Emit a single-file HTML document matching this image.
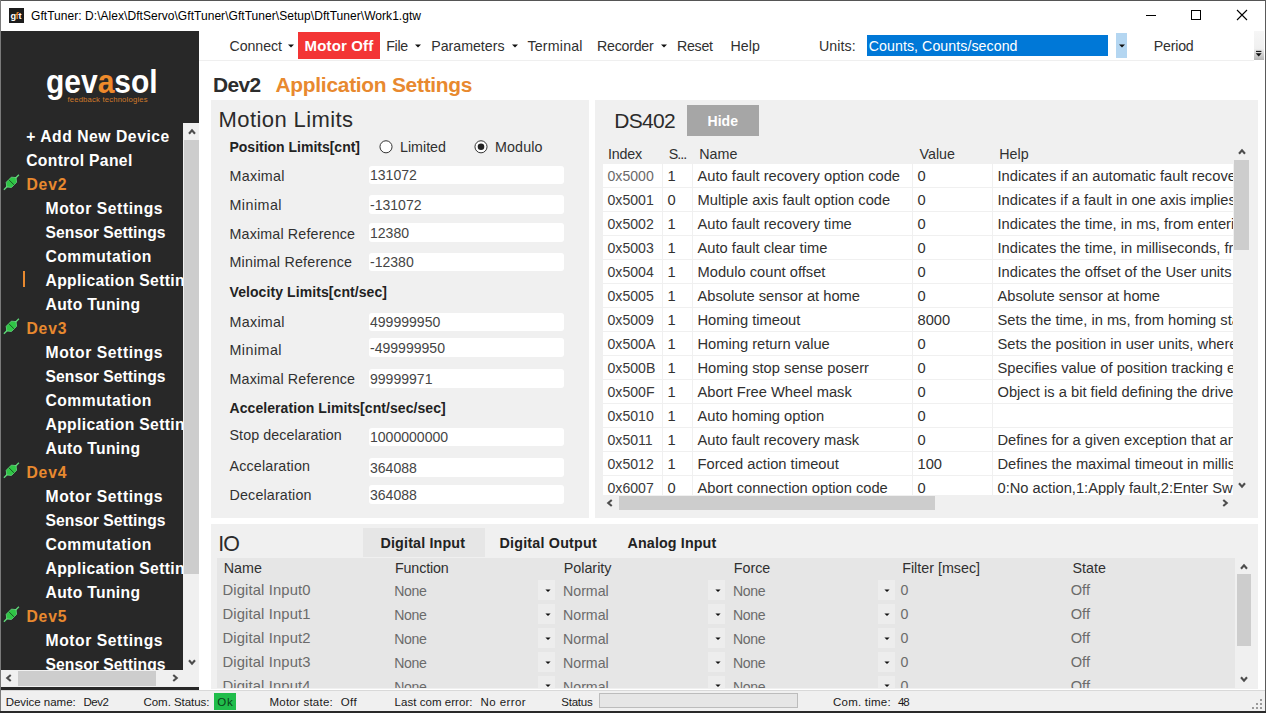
<!DOCTYPE html>
<html><head><meta charset="utf-8"><title>GftTuner</title>
<style>
html,body{margin:0;padding:0}
body{width:1266px;height:713px;overflow:hidden;position:relative;background:#fff;font-family:"Liberation Sans", sans-serif;}
#w{position:absolute;left:0;top:0;width:1266px;height:713px;overflow:hidden}
#w div,#w span,#w svg{position:absolute;white-space:pre}
#w svg{overflow:visible}
</style></head>
<body><div id="w">
<div style="left:0px;top:0px;width:1266px;height:713px;background:#fff;"></div>
<div style="left:9px;top:8px;width:15px;height:15px;background:#1c1c1c;"></div>
<svg style="left:1140px;top:5px" width="115" height="22" viewBox="0 0 115 22"><path d="M6 10.5h10" stroke="#000" stroke-width="1" fill="none"/><rect x="51.5" y="5.5" width="9" height="9" stroke="#000" fill="none"/><path d="M97 5l10 10M107 5l-10 10" stroke="#000" stroke-width="1.1" fill="none"/></svg>
<div style="left:1px;top:31px;width:198px;height:659px;background:#282828;"></div>
<div style="left:183px;top:123px;width:16px;height:547px;background:#f0f0f0;"></div>
<div style="left:184px;top:140.2px;width:15px;height:433.5px;background:#cdcdcd;"></div>
<svg style="left:183.5px;top:124.4px" width="16" height="16" viewBox="0 0 16 16"><polyline points="5.00,9.75 8.00,6.25 11.00,9.75" stroke="#4d4d4d" stroke-width="2.1" fill="none"/></svg>
<svg style="left:183.5px;top:653.6px" width="16" height="16" viewBox="0 0 16 16"><polyline points="5.00,6.25 8.00,9.75 11.00,6.25" stroke="#4d4d4d" stroke-width="2.1" fill="none"/></svg>
<div style="left:1px;top:670px;width:198px;height:16.6px;background:#f0f0f0;"></div>
<div style="left:18px;top:671px;width:138px;height:14.6px;background:#cdcdcd;"></div>
<svg style="left:1px;top:669.9px" width="16" height="16" viewBox="0 0 16 16"><polyline points="9.75,5.00 6.25,8.00 9.75,11.00" stroke="#4d4d4d" stroke-width="2.1" fill="none"/></svg>
<svg style="left:166.8px;top:669.9px" width="16" height="16" viewBox="0 0 16 16"><polyline points="6.25,5.00 9.75,8.00 6.25,11.00" stroke="#4d4d4d" stroke-width="2.1" fill="none"/></svg>
<svg style="left:3px;top:174.4px" width="17" height="17" viewBox="0 0 17 17"><g transform="translate(8.4 8.3) rotate(-45)"><path d="M-10.6 0h21.2" stroke="#5fd878" stroke-width="1.3"/><path d="M-6.6 0l3-3.7h7.2l3 3.7-3 3.7h-7.2z" fill="#2fc645" stroke="#6fe08a" stroke-width="0.7"/><path d="M0 -3.7v7.4" stroke="#17521f" stroke-width="0.9"/></g></svg>
<svg style="left:3px;top:318.4px" width="17" height="17" viewBox="0 0 17 17"><g transform="translate(8.4 8.3) rotate(-45)"><path d="M-10.6 0h21.2" stroke="#5fd878" stroke-width="1.3"/><path d="M-6.6 0l3-3.7h7.2l3 3.7-3 3.7h-7.2z" fill="#2fc645" stroke="#6fe08a" stroke-width="0.7"/><path d="M0 -3.7v7.4" stroke="#17521f" stroke-width="0.9"/></g></svg>
<svg style="left:3px;top:462.4px" width="17" height="17" viewBox="0 0 17 17"><g transform="translate(8.4 8.3) rotate(-45)"><path d="M-10.6 0h21.2" stroke="#5fd878" stroke-width="1.3"/><path d="M-6.6 0l3-3.7h7.2l3 3.7-3 3.7h-7.2z" fill="#2fc645" stroke="#6fe08a" stroke-width="0.7"/><path d="M0 -3.7v7.4" stroke="#17521f" stroke-width="0.9"/></g></svg>
<svg style="left:3px;top:606.4px" width="17" height="17" viewBox="0 0 17 17"><g transform="translate(8.4 8.3) rotate(-45)"><path d="M-10.6 0h21.2" stroke="#5fd878" stroke-width="1.3"/><path d="M-6.6 0l3-3.7h7.2l3 3.7-3 3.7h-7.2z" fill="#2fc645" stroke="#6fe08a" stroke-width="0.7"/><path d="M0 -3.7v7.4" stroke="#17521f" stroke-width="0.9"/></g></svg>
<div style="left:23px;top:271px;width:2px;height:16px;background:#e8892f;"></div>
<div style="left:199px;top:60px;width:1055px;height:1px;background:#efefef;"></div>
<div style="left:298px;top:32px;width:82px;height:27px;background:#f33535;"></div>
<div style="left:867px;top:35px;width:241px;height:21px;background:#0078d7;"></div>
<div style="left:1116px;top:33px;width:11px;height:25px;background:#b4d6f1;"></div>
<svg style="left:287.25px;top:42.5px" width="8" height="6" viewBox="0 0 8 6"><path d="M1 1.5h6l-3 3z" fill="#111"/></svg>
<svg style="left:414px;top:42.5px" width="8" height="6" viewBox="0 0 8 6"><path d="M1 1.5h6l-3 3z" fill="#111"/></svg>
<svg style="left:510.5px;top:42.5px" width="8" height="6" viewBox="0 0 8 6"><path d="M1 1.5h6l-3 3z" fill="#111"/></svg>
<svg style="left:659.75px;top:42.5px" width="8" height="6" viewBox="0 0 8 6"><path d="M1 1.5h6l-3 3z" fill="#111"/></svg>
<svg style="left:1117.5px;top:42.5px" width="8" height="6" viewBox="0 0 8 6"><path d="M1 1.5h6l-3 3z" fill="#111"/></svg>
<div style="left:1254px;top:31px;width:10px;height:29px;background:linear-gradient(#f6f6f6 0%,#f0f0f0 60%,#b4b4b4 100%);"></div>
<svg style="left:1254px;top:48px" width="10" height="10" viewBox="0 0 10 10"><path d="M2 3.4h5.4" stroke="#111" stroke-width="1.1"/><path d="M1.7 5.2h6l-3 3.4z" fill="#111"/></svg>
<div style="left:211px;top:100px;width:378px;height:418px;background:#f0f0f0;"></div>
<svg style="left:377.75px;top:139px" width="16" height="16" viewBox="0 0 16 16"><circle cx="8" cy="7.8" r="6.05" fill="#fff" stroke="#333" stroke-width="1"/></svg>
<svg style="left:472.75px;top:139px" width="16" height="16" viewBox="0 0 16 16"><circle cx="8" cy="7.8" r="6.05" fill="#fff" stroke="#333" stroke-width="1"/><circle cx="8" cy="7.8" r="3.3" fill="#222"/></svg>
<div style="left:369.25px;top:165.5px;width:195px;height:18.75px;background:#fff;border-radius:3px;"></div>
<div style="left:369.25px;top:195px;width:195px;height:18.75px;background:#fff;border-radius:3px;"></div>
<div style="left:369.25px;top:223.25px;width:195px;height:18.75px;background:#fff;border-radius:3px;"></div>
<div style="left:369.25px;top:252.5px;width:195px;height:18.75px;background:#fff;border-radius:3px;"></div>
<div style="left:369.25px;top:312.5px;width:195px;height:18.75px;background:#fff;border-radius:3px;"></div>
<div style="left:369.25px;top:338.25px;width:195px;height:18.75px;background:#fff;border-radius:3px;"></div>
<div style="left:369.25px;top:369.25px;width:195px;height:18.75px;background:#fff;border-radius:3px;"></div>
<div style="left:369.25px;top:427.5px;width:195px;height:18.75px;background:#fff;border-radius:3px;"></div>
<div style="left:369.25px;top:458.25px;width:195px;height:18.75px;background:#fff;border-radius:3px;"></div>
<div style="left:369.25px;top:485px;width:195px;height:18.75px;background:#fff;border-radius:3px;"></div>
<div style="left:595px;top:100px;width:663px;height:418px;background:#f0f0f0;"></div>
<div style="left:687px;top:105px;width:72px;height:31px;background:#a6a6a6;"></div>
<div style="left:603px;top:164px;width:630px;height:330.5px;background:#fff;"></div>
<div style="left:603px;top:187px;width:630px;height:1px;background:#f0f0f0;"></div>
<div style="left:603px;top:211px;width:630px;height:1px;background:#f0f0f0;"></div>
<div style="left:603px;top:235px;width:630px;height:1px;background:#f0f0f0;"></div>
<div style="left:603px;top:259px;width:630px;height:1px;background:#f0f0f0;"></div>
<div style="left:603px;top:283px;width:630px;height:1px;background:#f0f0f0;"></div>
<div style="left:603px;top:307px;width:630px;height:1px;background:#f0f0f0;"></div>
<div style="left:603px;top:331px;width:630px;height:1px;background:#f0f0f0;"></div>
<div style="left:603px;top:355px;width:630px;height:1px;background:#f0f0f0;"></div>
<div style="left:603px;top:379px;width:630px;height:1px;background:#f0f0f0;"></div>
<div style="left:603px;top:403px;width:630px;height:1px;background:#f0f0f0;"></div>
<div style="left:603px;top:427px;width:630px;height:1px;background:#f0f0f0;"></div>
<div style="left:603px;top:451px;width:630px;height:1px;background:#f0f0f0;"></div>
<div style="left:603px;top:475px;width:630px;height:1px;background:#f0f0f0;"></div>
<div style="left:662px;top:164px;width:1px;height:330.5px;background:#f0f0f0;"></div>
<div style="left:692px;top:164px;width:1px;height:330.5px;background:#f0f0f0;"></div>
<div style="left:912px;top:164px;width:1px;height:330.5px;background:#f0f0f0;"></div>
<div style="left:992px;top:164px;width:1px;height:330.5px;background:#f0f0f0;"></div>
<div style="left:1234px;top:160px;width:14.75px;height:90px;background:#cdcdcd;"></div>
<svg style="left:1233.5px;top:144px" width="16" height="16" viewBox="0 0 16 16"><polyline points="5.00,9.75 8.00,6.25 11.00,9.75" stroke="#4d4d4d" stroke-width="2.1" fill="none"/></svg>
<svg style="left:1233.7px;top:477.4px" width="16" height="16" viewBox="0 0 16 16"><polyline points="5.00,6.25 8.00,9.75 11.00,6.25" stroke="#4d4d4d" stroke-width="2.1" fill="none"/></svg>
<div style="left:619.25px;top:495.75px;width:315.75px;height:14.25px;background:#cdcdcd;"></div>
<svg style="left:602px;top:495px" width="16" height="16" viewBox="0 0 16 16"><polyline points="9.75,5.00 6.25,8.00 9.75,11.00" stroke="#4d4d4d" stroke-width="2.1" fill="none"/></svg>
<svg style="left:1217px;top:495px" width="16" height="16" viewBox="0 0 16 16"><polyline points="6.25,5.00 9.75,8.00 6.25,11.00" stroke="#4d4d4d" stroke-width="2.1" fill="none"/></svg>
<div style="left:211px;top:524px;width:1047px;height:165px;background:#f0f0f0;"></div>
<div style="left:363.25px;top:528px;width:121.25px;height:29px;background:#e6e6e6;"></div>
<div style="left:217px;top:557.5px;width:1018px;height:130.5px;background:#e6e6e6;"></div>
<div style="left:538.25px;top:579.5px;width:16.75px;height:20.5px;background:#ededed;"></div>
<svg style="left:543.5px;top:587.5px" width="8" height="6" viewBox="0 0 8 6"><path d="M1.4 1.5h5.2l-2.6 2.6z" fill="#111"/></svg>
<div style="left:708.25px;top:579.5px;width:16.75px;height:20.5px;background:#ededed;"></div>
<svg style="left:713.5px;top:587.5px" width="8" height="6" viewBox="0 0 8 6"><path d="M1.4 1.5h5.2l-2.6 2.6z" fill="#111"/></svg>
<div style="left:877.75px;top:579.5px;width:16.75px;height:20.5px;background:#ededed;"></div>
<svg style="left:883px;top:587.5px" width="8" height="6" viewBox="0 0 8 6"><path d="M1.4 1.5h5.2l-2.6 2.6z" fill="#111"/></svg>
<div style="left:538.25px;top:603.5px;width:16.75px;height:20.5px;background:#ededed;"></div>
<svg style="left:543.5px;top:611.5px" width="8" height="6" viewBox="0 0 8 6"><path d="M1.4 1.5h5.2l-2.6 2.6z" fill="#111"/></svg>
<div style="left:708.25px;top:603.5px;width:16.75px;height:20.5px;background:#ededed;"></div>
<svg style="left:713.5px;top:611.5px" width="8" height="6" viewBox="0 0 8 6"><path d="M1.4 1.5h5.2l-2.6 2.6z" fill="#111"/></svg>
<div style="left:877.75px;top:603.5px;width:16.75px;height:20.5px;background:#ededed;"></div>
<svg style="left:883px;top:611.5px" width="8" height="6" viewBox="0 0 8 6"><path d="M1.4 1.5h5.2l-2.6 2.6z" fill="#111"/></svg>
<div style="left:538.25px;top:627.5px;width:16.75px;height:20.5px;background:#ededed;"></div>
<svg style="left:543.5px;top:635.5px" width="8" height="6" viewBox="0 0 8 6"><path d="M1.4 1.5h5.2l-2.6 2.6z" fill="#111"/></svg>
<div style="left:708.25px;top:627.5px;width:16.75px;height:20.5px;background:#ededed;"></div>
<svg style="left:713.5px;top:635.5px" width="8" height="6" viewBox="0 0 8 6"><path d="M1.4 1.5h5.2l-2.6 2.6z" fill="#111"/></svg>
<div style="left:877.75px;top:627.5px;width:16.75px;height:20.5px;background:#ededed;"></div>
<svg style="left:883px;top:635.5px" width="8" height="6" viewBox="0 0 8 6"><path d="M1.4 1.5h5.2l-2.6 2.6z" fill="#111"/></svg>
<div style="left:538.25px;top:651.5px;width:16.75px;height:20.5px;background:#ededed;"></div>
<svg style="left:543.5px;top:659.5px" width="8" height="6" viewBox="0 0 8 6"><path d="M1.4 1.5h5.2l-2.6 2.6z" fill="#111"/></svg>
<div style="left:708.25px;top:651.5px;width:16.75px;height:20.5px;background:#ededed;"></div>
<svg style="left:713.5px;top:659.5px" width="8" height="6" viewBox="0 0 8 6"><path d="M1.4 1.5h5.2l-2.6 2.6z" fill="#111"/></svg>
<div style="left:877.75px;top:651.5px;width:16.75px;height:20.5px;background:#ededed;"></div>
<svg style="left:883px;top:659.5px" width="8" height="6" viewBox="0 0 8 6"><path d="M1.4 1.5h5.2l-2.6 2.6z" fill="#111"/></svg>
<div style="left:538.25px;top:675.5px;width:16.75px;height:12.5px;background:#ededed;"></div>
<svg style="left:543.5px;top:683.3px" width="8" height="6" viewBox="0 0 8 6"><path d="M1.4 1.5h5.2l-2.6 2.6z" fill="#111"/></svg>
<div style="left:708.25px;top:675.5px;width:16.75px;height:12.5px;background:#ededed;"></div>
<svg style="left:713.5px;top:683.3px" width="8" height="6" viewBox="0 0 8 6"><path d="M1.4 1.5h5.2l-2.6 2.6z" fill="#111"/></svg>
<div style="left:877.75px;top:675.5px;width:16.75px;height:12.5px;background:#ededed;"></div>
<svg style="left:883px;top:683.3px" width="8" height="6" viewBox="0 0 8 6"><path d="M1.4 1.5h5.2l-2.6 2.6z" fill="#111"/></svg>
<div style="left:1236.75px;top:574.25px;width:14.5px;height:71.5px;background:#cdcdcd;"></div>
<svg style="left:1235.75px;top:558.6px" width="16" height="16" viewBox="0 0 16 16"><polyline points="5.00,9.75 8.00,6.25 11.00,9.75" stroke="#4d4d4d" stroke-width="2.1" fill="none"/></svg>
<svg style="left:1235.75px;top:670.8px" width="16" height="16" viewBox="0 0 16 16"><polyline points="5.00,6.25 8.00,9.75 11.00,6.25" stroke="#4d4d4d" stroke-width="2.1" fill="none"/></svg>
<span style="left:10.60px;top:11px;font-size:9.2px;line-height:10px;color:#fff;font-weight:700;">g</span>
<span style="left:15.40px;top:11px;font-size:9.2px;line-height:10px;color:#e8892f;font-weight:700;">f</span>
<span style="left:18.40px;top:11px;font-size:9.2px;line-height:10px;color:#fff;font-weight:700;">t</span>
<span style="left:31.00px;top:9px;font-size:12px;line-height:14px;color:#000;letter-spacing:0.047px;">GftTuner: D:\Alex\DftServo\GftTuner\GftTuner\Setup\DftTuner\Work1.gtw</span>
<span style="left:67.40px;top:95px;font-size:7.7px;line-height:9px;color:#d07a2a;letter-spacing:0.184px;">feedback technologies</span>
<div style="left:1px;top:126px;width:182px;height:22.00px;overflow:hidden"><span style="left:25.20px;top:2px;font-size:15.7px;line-height:17px;color:#fff;letter-spacing:0.540px;font-weight:700;">+ Add New Device</span></div>
<div style="left:1px;top:150px;width:182px;height:22.00px;overflow:hidden"><span style="left:25.20px;top:2px;font-size:15.7px;line-height:17px;color:#fff;letter-spacing:0.343px;font-weight:700;">Control Panel</span></div>
<div style="left:1px;top:174px;width:182px;height:22.00px;overflow:hidden"><span style="left:25.50px;top:2px;font-size:15.7px;line-height:17px;color:#e8892f;letter-spacing:0.795px;font-weight:700;">Dev2</span></div>
<div style="left:1px;top:198px;width:182px;height:22.00px;overflow:hidden"><span style="left:44.50px;top:2px;font-size:15.7px;line-height:17px;color:#fff;letter-spacing:0.561px;font-weight:700;">Motor Settings</span></div>
<div style="left:1px;top:222px;width:182px;height:22.00px;overflow:hidden"><span style="left:44.50px;top:2px;font-size:15.7px;line-height:17px;color:#fff;letter-spacing:0.040px;font-weight:700;">Sensor Settings</span></div>
<div style="left:1px;top:246px;width:182px;height:22.00px;overflow:hidden"><span style="left:44.50px;top:2px;font-size:15.7px;line-height:17px;color:#fff;letter-spacing:0.471px;font-weight:700;">Commutation</span></div>
<div style="left:1px;top:270px;width:182px;height:22.00px;overflow:hidden"><span style="left:44.50px;top:2px;font-size:15.7px;line-height:17px;color:#fff;letter-spacing:0.334px;font-weight:700;">Application Settings</span></div>
<div style="left:1px;top:294px;width:182px;height:22.00px;overflow:hidden"><span style="left:44.50px;top:2px;font-size:15.7px;line-height:17px;color:#fff;letter-spacing:0.331px;font-weight:700;">Auto Tuning</span></div>
<div style="left:1px;top:318px;width:182px;height:22.00px;overflow:hidden"><span style="left:25.50px;top:2px;font-size:15.7px;line-height:17px;color:#e8892f;letter-spacing:0.795px;font-weight:700;">Dev3</span></div>
<div style="left:1px;top:342px;width:182px;height:22.00px;overflow:hidden"><span style="left:44.50px;top:2px;font-size:15.7px;line-height:17px;color:#fff;letter-spacing:0.561px;font-weight:700;">Motor Settings</span></div>
<div style="left:1px;top:366px;width:182px;height:22.00px;overflow:hidden"><span style="left:44.50px;top:2px;font-size:15.7px;line-height:17px;color:#fff;letter-spacing:0.040px;font-weight:700;">Sensor Settings</span></div>
<div style="left:1px;top:390px;width:182px;height:22.00px;overflow:hidden"><span style="left:44.50px;top:2px;font-size:15.7px;line-height:17px;color:#fff;letter-spacing:0.471px;font-weight:700;">Commutation</span></div>
<div style="left:1px;top:414px;width:182px;height:22.00px;overflow:hidden"><span style="left:44.50px;top:2px;font-size:15.7px;line-height:17px;color:#fff;letter-spacing:0.334px;font-weight:700;">Application Settings</span></div>
<div style="left:1px;top:438px;width:182px;height:22.00px;overflow:hidden"><span style="left:44.50px;top:2px;font-size:15.7px;line-height:17px;color:#fff;letter-spacing:0.331px;font-weight:700;">Auto Tuning</span></div>
<div style="left:1px;top:462px;width:182px;height:22.00px;overflow:hidden"><span style="left:25.50px;top:2px;font-size:15.7px;line-height:17px;color:#e8892f;letter-spacing:0.795px;font-weight:700;">Dev4</span></div>
<div style="left:1px;top:486px;width:182px;height:22.00px;overflow:hidden"><span style="left:44.50px;top:2px;font-size:15.7px;line-height:17px;color:#fff;letter-spacing:0.561px;font-weight:700;">Motor Settings</span></div>
<div style="left:1px;top:510px;width:182px;height:22.00px;overflow:hidden"><span style="left:44.50px;top:2px;font-size:15.7px;line-height:17px;color:#fff;letter-spacing:0.040px;font-weight:700;">Sensor Settings</span></div>
<div style="left:1px;top:534px;width:182px;height:22.00px;overflow:hidden"><span style="left:44.50px;top:2px;font-size:15.7px;line-height:17px;color:#fff;letter-spacing:0.471px;font-weight:700;">Commutation</span></div>
<div style="left:1px;top:558px;width:182px;height:22.00px;overflow:hidden"><span style="left:44.50px;top:2px;font-size:15.7px;line-height:17px;color:#fff;letter-spacing:0.334px;font-weight:700;">Application Settings</span></div>
<div style="left:1px;top:582px;width:182px;height:22.00px;overflow:hidden"><span style="left:44.50px;top:2px;font-size:15.7px;line-height:17px;color:#fff;letter-spacing:0.331px;font-weight:700;">Auto Tuning</span></div>
<div style="left:1px;top:606px;width:182px;height:22.00px;overflow:hidden"><span style="left:25.50px;top:2px;font-size:15.7px;line-height:17px;color:#e8892f;letter-spacing:0.795px;font-weight:700;">Dev5</span></div>
<div style="left:1px;top:630px;width:182px;height:22.00px;overflow:hidden"><span style="left:44.50px;top:2px;font-size:15.7px;line-height:17px;color:#fff;letter-spacing:0.561px;font-weight:700;">Motor Settings</span></div>
<div style="left:1px;top:654px;width:182px;height:16.00px;overflow:hidden"><span style="left:44.50px;top:2px;font-size:15.7px;line-height:17px;color:#fff;letter-spacing:0.040px;font-weight:700;">Sensor Settings</span></div>
<span style="left:229.50px;top:38px;font-size:14.2px;line-height:16px;color:#303030;letter-spacing:-0.057px;">Connect</span>
<span style="left:304.50px;top:37px;font-size:15px;line-height:17px;color:#fff;letter-spacing:0.158px;font-weight:700;">Motor Off</span>
<span style="left:386.25px;top:38px;font-size:14.2px;line-height:16px;color:#303030;letter-spacing:-0.292px;">File</span>
<span style="left:431.25px;top:38px;font-size:14.2px;line-height:16px;color:#303030;letter-spacing:-0.009px;">Parameters</span>
<span style="left:527.50px;top:38px;font-size:14.2px;line-height:16px;color:#303030;letter-spacing:0.196px;">Terminal</span>
<span style="left:597.00px;top:38px;font-size:14.2px;line-height:16px;color:#303030;letter-spacing:-0.230px;">Recorder</span>
<span style="left:677.00px;top:38px;font-size:14.2px;line-height:16px;color:#303030;letter-spacing:-0.266px;">Reset</span>
<span style="left:730.50px;top:38px;font-size:14.2px;line-height:16px;color:#303030;letter-spacing:0.104px;">Help</span>
<span style="left:819.00px;top:38px;font-size:14.2px;line-height:16px;color:#303030;letter-spacing:0.097px;">Units:</span>
<span style="left:868.75px;top:38px;font-size:14.2px;line-height:16px;color:#fff;letter-spacing:0.063px;">Counts, Counts/second</span>
<span style="left:1153.75px;top:38px;font-size:14.2px;line-height:16px;color:#303030;letter-spacing:-0.203px;">Period</span>
<span style="left:213.00px;top:73px;font-size:20.9px;line-height:23px;color:#2d2d2d;letter-spacing:-0.568px;font-weight:700;">Dev2</span>
<span style="left:275.50px;top:73px;font-size:20.9px;line-height:23px;color:#e8892f;letter-spacing:-0.261px;font-weight:700;">Application Settings</span>
<span style="left:218.60px;top:107px;font-size:22px;line-height:25px;color:#2b2b2b;letter-spacing:0.409px;">Motion Limits</span>
<span style="left:229.50px;top:139px;font-size:14px;line-height:16px;color:#222;letter-spacing:-0.009px;font-weight:700;">Position Limits[cnt]</span>
<span style="left:400.00px;top:139px;font-size:14.3px;line-height:16px;color:#303030;letter-spacing:-0.016px;">Limited</span>
<span style="left:495.00px;top:139px;font-size:14.3px;line-height:16px;color:#303030;letter-spacing:0.119px;">Modulo</span>
<span style="left:229.50px;top:168px;font-size:14.3px;line-height:16px;color:#303030;letter-spacing:0.294px;">Maximal</span>
<span style="left:370.00px;top:167px;font-size:14.05px;line-height:16px;color:#454545;">131072</span>
<span style="left:229.50px;top:197px;font-size:14.3px;line-height:16px;color:#303030;letter-spacing:0.456px;">Minimal</span>
<span style="left:370.00px;top:197px;font-size:14.05px;line-height:16px;color:#454545;">-131072</span>
<span style="left:229.50px;top:226px;font-size:14.3px;line-height:16px;color:#303030;letter-spacing:0.146px;">Maximal Reference</span>
<span style="left:370.00px;top:225px;font-size:14.05px;line-height:16px;color:#454545;">12380</span>
<span style="left:229.50px;top:254px;font-size:14.3px;line-height:16px;color:#303030;letter-spacing:0.207px;">Minimal Reference</span>
<span style="left:370.00px;top:254px;font-size:14.05px;line-height:16px;color:#454545;">-12380</span>
<span style="left:229.50px;top:314px;font-size:14.3px;line-height:16px;color:#303030;letter-spacing:0.294px;">Maximal</span>
<span style="left:370.00px;top:314px;font-size:14.05px;line-height:16px;color:#454545;">499999950</span>
<span style="left:229.50px;top:342px;font-size:14.3px;line-height:16px;color:#303030;letter-spacing:0.456px;">Minimal</span>
<span style="left:370.00px;top:340px;font-size:14.05px;line-height:16px;color:#454545;">-499999950</span>
<span style="left:229.50px;top:371px;font-size:14.3px;line-height:16px;color:#303030;letter-spacing:0.146px;">Maximal Reference</span>
<span style="left:370.00px;top:371px;font-size:14.05px;line-height:16px;color:#454545;">99999971</span>
<span style="left:229.50px;top:427px;font-size:14.3px;line-height:16px;color:#303030;letter-spacing:0.061px;">Stop decelaration</span>
<span style="left:370.00px;top:429px;font-size:14.05px;line-height:16px;color:#454545;">1000000000</span>
<span style="left:229.50px;top:458px;font-size:14.3px;line-height:16px;color:#303030;letter-spacing:0.165px;">Accelaration</span>
<span style="left:370.00px;top:460px;font-size:14.05px;line-height:16px;color:#454545;">364088</span>
<span style="left:229.50px;top:487px;font-size:14.3px;line-height:16px;color:#303030;letter-spacing:0.156px;">Decelaration</span>
<span style="left:370.00px;top:487px;font-size:14.05px;line-height:16px;color:#454545;">364088</span>
<span style="left:229.50px;top:284px;font-size:14px;line-height:16px;color:#222;letter-spacing:0.082px;font-weight:700;">Velocity Limits[cnt/sec]</span>
<span style="left:229.50px;top:400px;font-size:14px;line-height:16px;color:#222;letter-spacing:0.073px;font-weight:700;">Acceleration Limits[cnt/sec/sec]</span>
<span style="left:614.30px;top:109px;font-size:21px;line-height:23px;color:#2b2b2b;letter-spacing:-0.705px;">DS402</span>
<span style="left:707.50px;top:113px;font-size:14px;line-height:16px;color:#fff;letter-spacing:0.052px;font-weight:700;">Hide</span>
<span style="left:607.90px;top:146px;font-size:14.3px;line-height:16px;color:#303030;letter-spacing:-0.184px;">Index</span>
<span style="left:668.70px;top:146px;font-size:14.3px;line-height:16px;color:#303030;letter-spacing:-0.951px;">S...</span>
<span style="left:699.25px;top:146px;font-size:14.3px;line-height:16px;color:#303030;">Name</span>
<span style="left:919.50px;top:146px;font-size:14.3px;line-height:16px;color:#303030;">Value</span>
<span style="left:999.25px;top:146px;font-size:14.3px;line-height:16px;color:#303030;">Help</span>
<div style="left:603px;top:164px;width:630px;height:23.50px;overflow:hidden"><span style="left:4.50px;top:4px;font-size:14.1px;line-height:16px;color:#6a6a6a;">0x5000</span></div>
<div style="left:603px;top:164px;width:630px;height:23.50px;overflow:hidden"><span style="left:64.50px;top:4px;font-size:14.7px;line-height:16px;color:#303030;">1</span></div>
<div style="left:603px;top:164px;width:630px;height:23.50px;overflow:hidden"><span style="left:94.50px;top:4px;font-size:14.7px;line-height:16px;color:#303030;">Auto fault recovery option code</span></div>
<div style="left:603px;top:164px;width:630px;height:23.50px;overflow:hidden"><span style="left:314.50px;top:4px;font-size:14.7px;line-height:16px;color:#303030;">0</span></div>
<div style="left:603px;top:164px;width:630px;height:23.50px;overflow:hidden"><span style="left:394.50px;top:4px;font-size:14.7px;line-height:16px;color:#303030;">Indicates if an automatic fault recovery is enabled</span></div>
<div style="left:603px;top:187.5px;width:630px;height:24.00px;overflow:hidden"><span style="left:4.50px;top:4.5px;font-size:14.1px;line-height:16px;color:#3a3a3a;">0x5001</span></div>
<div style="left:603px;top:187.5px;width:630px;height:24.00px;overflow:hidden"><span style="left:64.50px;top:4.5px;font-size:14.7px;line-height:16px;color:#303030;">0</span></div>
<div style="left:603px;top:187.5px;width:630px;height:24.00px;overflow:hidden"><span style="left:94.50px;top:4.5px;font-size:14.7px;line-height:16px;color:#303030;">Multiple axis fault option code</span></div>
<div style="left:603px;top:187.5px;width:630px;height:24.00px;overflow:hidden"><span style="left:314.50px;top:4.5px;font-size:14.7px;line-height:16px;color:#303030;">0</span></div>
<div style="left:603px;top:187.5px;width:630px;height:24.00px;overflow:hidden"><span style="left:394.50px;top:4.5px;font-size:14.7px;line-height:16px;color:#303030;">Indicates if a fault in one axis implies a fault in others</span></div>
<div style="left:603px;top:211.5px;width:630px;height:24.00px;overflow:hidden"><span style="left:4.50px;top:4.5px;font-size:14.1px;line-height:16px;color:#3a3a3a;">0x5002</span></div>
<div style="left:603px;top:211.5px;width:630px;height:24.00px;overflow:hidden"><span style="left:64.50px;top:4.5px;font-size:14.7px;line-height:16px;color:#303030;">1</span></div>
<div style="left:603px;top:211.5px;width:630px;height:24.00px;overflow:hidden"><span style="left:94.50px;top:4.5px;font-size:14.7px;line-height:16px;color:#303030;">Auto fault recovery time</span></div>
<div style="left:603px;top:211.5px;width:630px;height:24.00px;overflow:hidden"><span style="left:314.50px;top:4.5px;font-size:14.7px;line-height:16px;color:#303030;">0</span></div>
<div style="left:603px;top:211.5px;width:630px;height:24.00px;overflow:hidden"><span style="left:394.50px;top:4.5px;font-size:14.7px;line-height:16px;color:#303030;">Indicates the time, in ms, from entering fault to recovery</span></div>
<div style="left:603px;top:235.5px;width:630px;height:24.00px;overflow:hidden"><span style="left:4.50px;top:4.5px;font-size:14.1px;line-height:16px;color:#3a3a3a;">0x5003</span></div>
<div style="left:603px;top:235.5px;width:630px;height:24.00px;overflow:hidden"><span style="left:64.50px;top:4.5px;font-size:14.7px;line-height:16px;color:#303030;">1</span></div>
<div style="left:603px;top:235.5px;width:630px;height:24.00px;overflow:hidden"><span style="left:94.50px;top:4.5px;font-size:14.7px;line-height:16px;color:#303030;">Auto fault clear time</span></div>
<div style="left:603px;top:235.5px;width:630px;height:24.00px;overflow:hidden"><span style="left:314.50px;top:4.5px;font-size:14.7px;line-height:16px;color:#303030;">0</span></div>
<div style="left:603px;top:235.5px;width:630px;height:24.00px;overflow:hidden"><span style="left:394.50px;top:4.5px;font-size:14.7px;line-height:16px;color:#303030;">Indicates the time, in milliseconds, from fault clear</span></div>
<div style="left:603px;top:259.5px;width:630px;height:24.00px;overflow:hidden"><span style="left:4.50px;top:4.5px;font-size:14.1px;line-height:16px;color:#3a3a3a;">0x5004</span></div>
<div style="left:603px;top:259.5px;width:630px;height:24.00px;overflow:hidden"><span style="left:64.50px;top:4.5px;font-size:14.7px;line-height:16px;color:#303030;">1</span></div>
<div style="left:603px;top:259.5px;width:630px;height:24.00px;overflow:hidden"><span style="left:94.50px;top:4.5px;font-size:14.7px;line-height:16px;color:#303030;">Modulo count offset</span></div>
<div style="left:603px;top:259.5px;width:630px;height:24.00px;overflow:hidden"><span style="left:314.50px;top:4.5px;font-size:14.7px;line-height:16px;color:#303030;">0</span></div>
<div style="left:603px;top:259.5px;width:630px;height:24.00px;overflow:hidden"><span style="left:394.50px;top:4.5px;font-size:14.7px;line-height:16px;color:#303030;">Indicates the offset of the User units modulo count</span></div>
<div style="left:603px;top:283.5px;width:630px;height:24.00px;overflow:hidden"><span style="left:4.50px;top:4.5px;font-size:14.1px;line-height:16px;color:#3a3a3a;">0x5005</span></div>
<div style="left:603px;top:283.5px;width:630px;height:24.00px;overflow:hidden"><span style="left:64.50px;top:4.5px;font-size:14.7px;line-height:16px;color:#303030;">1</span></div>
<div style="left:603px;top:283.5px;width:630px;height:24.00px;overflow:hidden"><span style="left:94.50px;top:4.5px;font-size:14.7px;line-height:16px;color:#303030;">Absolute sensor at home</span></div>
<div style="left:603px;top:283.5px;width:630px;height:24.00px;overflow:hidden"><span style="left:314.50px;top:4.5px;font-size:14.7px;line-height:16px;color:#303030;">0</span></div>
<div style="left:603px;top:283.5px;width:630px;height:24.00px;overflow:hidden"><span style="left:394.50px;top:4.5px;font-size:14.7px;line-height:16px;color:#303030;">Absolute sensor at home</span></div>
<div style="left:603px;top:307.5px;width:630px;height:24.00px;overflow:hidden"><span style="left:4.50px;top:4.5px;font-size:14.1px;line-height:16px;color:#3a3a3a;">0x5009</span></div>
<div style="left:603px;top:307.5px;width:630px;height:24.00px;overflow:hidden"><span style="left:64.50px;top:4.5px;font-size:14.7px;line-height:16px;color:#303030;">1</span></div>
<div style="left:603px;top:307.5px;width:630px;height:24.00px;overflow:hidden"><span style="left:94.50px;top:4.5px;font-size:14.7px;line-height:16px;color:#303030;">Homing timeout</span></div>
<div style="left:603px;top:307.5px;width:630px;height:24.00px;overflow:hidden"><span style="left:314.50px;top:4.5px;font-size:14.7px;line-height:16px;color:#303030;">8000</span></div>
<div style="left:603px;top:307.5px;width:630px;height:24.00px;overflow:hidden"><span style="left:394.50px;top:4.5px;font-size:14.7px;line-height:16px;color:#303030;">Sets the time, in ms, from homing start until timeout</span></div>
<div style="left:603px;top:331.5px;width:630px;height:24.00px;overflow:hidden"><span style="left:4.50px;top:4.5px;font-size:14.1px;line-height:16px;color:#3a3a3a;">0x500A</span></div>
<div style="left:603px;top:331.5px;width:630px;height:24.00px;overflow:hidden"><span style="left:64.50px;top:4.5px;font-size:14.7px;line-height:16px;color:#303030;">1</span></div>
<div style="left:603px;top:331.5px;width:630px;height:24.00px;overflow:hidden"><span style="left:94.50px;top:4.5px;font-size:14.7px;line-height:16px;color:#303030;">Homing return value</span></div>
<div style="left:603px;top:331.5px;width:630px;height:24.00px;overflow:hidden"><span style="left:314.50px;top:4.5px;font-size:14.7px;line-height:16px;color:#303030;">0</span></div>
<div style="left:603px;top:331.5px;width:630px;height:24.00px;overflow:hidden"><span style="left:394.50px;top:4.5px;font-size:14.7px;line-height:16px;color:#303030;">Sets the position in user units, where homing returns</span></div>
<div style="left:603px;top:355.5px;width:630px;height:24.00px;overflow:hidden"><span style="left:4.50px;top:4.5px;font-size:14.1px;line-height:16px;color:#3a3a3a;">0x500B</span></div>
<div style="left:603px;top:355.5px;width:630px;height:24.00px;overflow:hidden"><span style="left:64.50px;top:4.5px;font-size:14.7px;line-height:16px;color:#303030;">1</span></div>
<div style="left:603px;top:355.5px;width:630px;height:24.00px;overflow:hidden"><span style="left:94.50px;top:4.5px;font-size:14.7px;line-height:16px;color:#303030;">Homing stop sense poserr</span></div>
<div style="left:603px;top:355.5px;width:630px;height:24.00px;overflow:hidden"><span style="left:314.50px;top:4.5px;font-size:14.7px;line-height:16px;color:#303030;">0</span></div>
<div style="left:603px;top:355.5px;width:630px;height:24.00px;overflow:hidden"><span style="left:394.50px;top:4.5px;font-size:14.7px;line-height:16px;color:#303030;">Specifies value of position tracking error for stop sense</span></div>
<div style="left:603px;top:379.5px;width:630px;height:24.00px;overflow:hidden"><span style="left:4.50px;top:4.5px;font-size:14.1px;line-height:16px;color:#3a3a3a;">0x500F</span></div>
<div style="left:603px;top:379.5px;width:630px;height:24.00px;overflow:hidden"><span style="left:64.50px;top:4.5px;font-size:14.7px;line-height:16px;color:#303030;">1</span></div>
<div style="left:603px;top:379.5px;width:630px;height:24.00px;overflow:hidden"><span style="left:94.50px;top:4.5px;font-size:14.7px;line-height:16px;color:#303030;">Abort Free Wheel mask</span></div>
<div style="left:603px;top:379.5px;width:630px;height:24.00px;overflow:hidden"><span style="left:314.50px;top:4.5px;font-size:14.7px;line-height:16px;color:#303030;">0</span></div>
<div style="left:603px;top:379.5px;width:630px;height:24.00px;overflow:hidden"><span style="left:394.50px;top:4.5px;font-size:14.7px;line-height:16px;color:#303030;">Object is a bit field defining the drive exceptions</span></div>
<div style="left:603px;top:403.5px;width:630px;height:24.00px;overflow:hidden"><span style="left:4.50px;top:4.5px;font-size:14.1px;line-height:16px;color:#3a3a3a;">0x5010</span></div>
<div style="left:603px;top:403.5px;width:630px;height:24.00px;overflow:hidden"><span style="left:64.50px;top:4.5px;font-size:14.7px;line-height:16px;color:#303030;">1</span></div>
<div style="left:603px;top:403.5px;width:630px;height:24.00px;overflow:hidden"><span style="left:94.50px;top:4.5px;font-size:14.7px;line-height:16px;color:#303030;">Auto homing option</span></div>
<div style="left:603px;top:403.5px;width:630px;height:24.00px;overflow:hidden"><span style="left:314.50px;top:4.5px;font-size:14.7px;line-height:16px;color:#303030;">0</span></div>
<div style="left:603px;top:427.5px;width:630px;height:24.00px;overflow:hidden"><span style="left:4.50px;top:4.5px;font-size:14.1px;line-height:16px;color:#3a3a3a;">0x5011</span></div>
<div style="left:603px;top:427.5px;width:630px;height:24.00px;overflow:hidden"><span style="left:64.50px;top:4.5px;font-size:14.7px;line-height:16px;color:#303030;">1</span></div>
<div style="left:603px;top:427.5px;width:630px;height:24.00px;overflow:hidden"><span style="left:94.50px;top:4.5px;font-size:14.7px;line-height:16px;color:#303030;">Auto fault recovery mask</span></div>
<div style="left:603px;top:427.5px;width:630px;height:24.00px;overflow:hidden"><span style="left:314.50px;top:4.5px;font-size:14.7px;line-height:16px;color:#303030;">0</span></div>
<div style="left:603px;top:427.5px;width:630px;height:24.00px;overflow:hidden"><span style="left:394.50px;top:4.5px;font-size:14.7px;line-height:16px;color:#303030;">Defines for a given exception that an auto recovery applies</span></div>
<div style="left:603px;top:451.5px;width:630px;height:24.00px;overflow:hidden"><span style="left:4.50px;top:4.5px;font-size:14.1px;line-height:16px;color:#3a3a3a;">0x5012</span></div>
<div style="left:603px;top:451.5px;width:630px;height:24.00px;overflow:hidden"><span style="left:64.50px;top:4.5px;font-size:14.7px;line-height:16px;color:#303030;">1</span></div>
<div style="left:603px;top:451.5px;width:630px;height:24.00px;overflow:hidden"><span style="left:94.50px;top:4.5px;font-size:14.7px;line-height:16px;color:#303030;">Forced action timeout</span></div>
<div style="left:603px;top:451.5px;width:630px;height:24.00px;overflow:hidden"><span style="left:314.50px;top:4.5px;font-size:14.7px;line-height:16px;color:#303030;">100</span></div>
<div style="left:603px;top:451.5px;width:630px;height:24.00px;overflow:hidden"><span style="left:394.50px;top:4.5px;font-size:14.7px;line-height:16px;color:#303030;">Defines the maximal timeout in milliseconds for forced action</span></div>
<div style="left:603px;top:475.5px;width:630px;height:19.00px;overflow:hidden"><span style="left:4.50px;top:4.5px;font-size:14.1px;line-height:16px;color:#3a3a3a;">0x6007</span></div>
<div style="left:603px;top:475.5px;width:630px;height:19.00px;overflow:hidden"><span style="left:64.50px;top:4.5px;font-size:14.7px;line-height:16px;color:#303030;">0</span></div>
<div style="left:603px;top:475.5px;width:630px;height:19.00px;overflow:hidden"><span style="left:94.50px;top:4.5px;font-size:14.7px;line-height:16px;color:#303030;">Abort connection option code</span></div>
<div style="left:603px;top:475.5px;width:630px;height:19.00px;overflow:hidden"><span style="left:314.50px;top:4.5px;font-size:14.7px;line-height:16px;color:#303030;">0</span></div>
<div style="left:603px;top:475.5px;width:630px;height:19.00px;overflow:hidden"><span style="left:394.50px;top:4.5px;font-size:14.7px;line-height:16px;color:#303030;">0:No action,1:Apply fault,2:Enter Switch on disabled</span></div>
<span style="left:218.20px;top:532px;font-size:21.4px;line-height:24px;color:#2b2b2b;letter-spacing:-0.9px;">IO</span>
<span style="left:380.50px;top:535px;font-size:14.3px;line-height:16px;color:#222;letter-spacing:0.159px;font-weight:700;">Digital Input</span>
<span style="left:499.50px;top:535px;font-size:14.3px;line-height:16px;color:#222;letter-spacing:0.210px;font-weight:700;">Digital Output</span>
<span style="left:627.50px;top:535px;font-size:14.3px;line-height:16px;color:#222;letter-spacing:0.126px;font-weight:700;">Analog Input</span>
<span style="left:223.75px;top:560px;font-size:14.3px;line-height:16px;color:#303030;">Name</span>
<span style="left:395.00px;top:560px;font-size:14.3px;line-height:16px;color:#303030;letter-spacing:-0.156px;">Function</span>
<span style="left:563.75px;top:560px;font-size:14.3px;line-height:16px;color:#303030;">Polarity</span>
<span style="left:733.75px;top:560px;font-size:14.3px;line-height:16px;color:#303030;">Force</span>
<span style="left:902.20px;top:560px;font-size:14.3px;line-height:16px;color:#303030;">Filter [msec]</span>
<span style="left:1072.50px;top:560px;font-size:14.3px;line-height:16px;color:#303030;">State</span>
<div style="left:217px;top:557px;width:1018px;height:131.00px;overflow:hidden"><span style="left:5.50px;top:25px;font-size:14.8px;line-height:16px;color:#6b6b6b;letter-spacing:0.125px;">Digital Input0</span></div>
<div style="left:217px;top:557px;width:1018px;height:131.00px;overflow:hidden"><span style="left:177.25px;top:26px;font-size:14.1px;line-height:16px;color:#6b6b6b;letter-spacing:-0.401px;">None</span></div>
<div style="left:217px;top:557px;width:1018px;height:131.00px;overflow:hidden"><span style="left:346.00px;top:26px;font-size:14.2px;line-height:16px;color:#6b6b6b;letter-spacing:0.003px;">Normal</span></div>
<div style="left:217px;top:557px;width:1018px;height:131.00px;overflow:hidden"><span style="left:516.00px;top:26px;font-size:14.1px;line-height:16px;color:#6b6b6b;letter-spacing:-0.401px;">None</span></div>
<div style="left:217px;top:557px;width:1018px;height:131.00px;overflow:hidden"><span style="left:683.50px;top:25px;font-size:14.2px;line-height:16px;color:#6b6b6b;">0</span></div>
<div style="left:217px;top:557px;width:1018px;height:131.00px;overflow:hidden"><span style="left:853.75px;top:25px;font-size:14.6px;line-height:16px;color:#6b6b6b;">Off</span></div>
<div style="left:217px;top:557px;width:1018px;height:131.00px;overflow:hidden"><span style="left:5.50px;top:49px;font-size:14.8px;line-height:16px;color:#6b6b6b;letter-spacing:0.125px;">Digital Input1</span></div>
<div style="left:217px;top:557px;width:1018px;height:131.00px;overflow:hidden"><span style="left:177.25px;top:50px;font-size:14.1px;line-height:16px;color:#6b6b6b;letter-spacing:-0.401px;">None</span></div>
<div style="left:217px;top:557px;width:1018px;height:131.00px;overflow:hidden"><span style="left:346.00px;top:50px;font-size:14.2px;line-height:16px;color:#6b6b6b;letter-spacing:0.003px;">Normal</span></div>
<div style="left:217px;top:557px;width:1018px;height:131.00px;overflow:hidden"><span style="left:516.00px;top:50px;font-size:14.1px;line-height:16px;color:#6b6b6b;letter-spacing:-0.401px;">None</span></div>
<div style="left:217px;top:557px;width:1018px;height:131.00px;overflow:hidden"><span style="left:683.50px;top:49px;font-size:14.2px;line-height:16px;color:#6b6b6b;">0</span></div>
<div style="left:217px;top:557px;width:1018px;height:131.00px;overflow:hidden"><span style="left:853.75px;top:49px;font-size:14.6px;line-height:16px;color:#6b6b6b;">Off</span></div>
<div style="left:217px;top:557px;width:1018px;height:131.00px;overflow:hidden"><span style="left:5.50px;top:73px;font-size:14.8px;line-height:16px;color:#6b6b6b;letter-spacing:0.125px;">Digital Input2</span></div>
<div style="left:217px;top:557px;width:1018px;height:131.00px;overflow:hidden"><span style="left:177.25px;top:74px;font-size:14.1px;line-height:16px;color:#6b6b6b;letter-spacing:-0.401px;">None</span></div>
<div style="left:217px;top:557px;width:1018px;height:131.00px;overflow:hidden"><span style="left:346.00px;top:74px;font-size:14.2px;line-height:16px;color:#6b6b6b;letter-spacing:0.003px;">Normal</span></div>
<div style="left:217px;top:557px;width:1018px;height:131.00px;overflow:hidden"><span style="left:516.00px;top:74px;font-size:14.1px;line-height:16px;color:#6b6b6b;letter-spacing:-0.401px;">None</span></div>
<div style="left:217px;top:557px;width:1018px;height:131.00px;overflow:hidden"><span style="left:683.50px;top:73px;font-size:14.2px;line-height:16px;color:#6b6b6b;">0</span></div>
<div style="left:217px;top:557px;width:1018px;height:131.00px;overflow:hidden"><span style="left:853.75px;top:73px;font-size:14.6px;line-height:16px;color:#6b6b6b;">Off</span></div>
<div style="left:217px;top:557px;width:1018px;height:131.00px;overflow:hidden"><span style="left:5.50px;top:97px;font-size:14.8px;line-height:16px;color:#6b6b6b;letter-spacing:0.125px;">Digital Input3</span></div>
<div style="left:217px;top:557px;width:1018px;height:131.00px;overflow:hidden"><span style="left:177.25px;top:98px;font-size:14.1px;line-height:16px;color:#6b6b6b;letter-spacing:-0.401px;">None</span></div>
<div style="left:217px;top:557px;width:1018px;height:131.00px;overflow:hidden"><span style="left:346.00px;top:98px;font-size:14.2px;line-height:16px;color:#6b6b6b;letter-spacing:0.003px;">Normal</span></div>
<div style="left:217px;top:557px;width:1018px;height:131.00px;overflow:hidden"><span style="left:516.00px;top:98px;font-size:14.1px;line-height:16px;color:#6b6b6b;letter-spacing:-0.401px;">None</span></div>
<div style="left:217px;top:557px;width:1018px;height:131.00px;overflow:hidden"><span style="left:683.50px;top:97px;font-size:14.2px;line-height:16px;color:#6b6b6b;">0</span></div>
<div style="left:217px;top:557px;width:1018px;height:131.00px;overflow:hidden"><span style="left:853.75px;top:97px;font-size:14.6px;line-height:16px;color:#6b6b6b;">Off</span></div>
<div style="left:217px;top:557px;width:1018px;height:131.00px;overflow:hidden"><span style="left:5.50px;top:121px;font-size:14.8px;line-height:16px;color:#6b6b6b;letter-spacing:0.125px;">Digital Input4</span></div>
<div style="left:217px;top:557px;width:1018px;height:131.00px;overflow:hidden"><span style="left:177.25px;top:122px;font-size:14.1px;line-height:16px;color:#6b6b6b;letter-spacing:-0.401px;">None</span></div>
<div style="left:217px;top:557px;width:1018px;height:131.00px;overflow:hidden"><span style="left:346.00px;top:122px;font-size:14.2px;line-height:16px;color:#6b6b6b;letter-spacing:0.003px;">Normal</span></div>
<div style="left:217px;top:557px;width:1018px;height:131.00px;overflow:hidden"><span style="left:516.00px;top:122px;font-size:14.1px;line-height:16px;color:#6b6b6b;letter-spacing:-0.401px;">None</span></div>
<div style="left:217px;top:557px;width:1018px;height:131.00px;overflow:hidden"><span style="left:683.50px;top:121px;font-size:14.2px;line-height:16px;color:#6b6b6b;">0</span></div>
<div style="left:217px;top:557px;width:1018px;height:131.00px;overflow:hidden"><span style="left:853.75px;top:121px;font-size:14.6px;line-height:16px;color:#6b6b6b;">Off</span></div>
<span style="left:46.3px;top:63.5px;font-size:34px;line-height:34px;font-weight:700;color:#fff;transform-origin:0 0;transform:scaleX(0.882)">gev<span style="position:static;color:#ee8a2b">a</span>sol</span>
<div style="left:199px;top:688.5px;width:1066px;height:1.5px;background:#fff;"></div>
<div style="left:1px;top:689.7px;width:1264px;height:21.3px;background:#f0f0f0;"></div>
<div style="left:1px;top:690px;width:1264px;height:1px;background:#d9d9d9;"></div>
<div style="left:213.9px;top:693.3px;width:22px;height:16.4px;background:#20bd4b;"></div>
<div style="left:598.5px;top:692.6px;width:199px;height:15.8px;background:#e6e6e6;box-sizing:border-box;border:1px solid #bcbcbc;"></div>
<svg style="left:1252px;top:699px" width="10" height="10" viewBox="0 0 10 10"><rect x="8" y="0" width="2" height="2" fill="#9a9a9a"/><rect x="4" y="4" width="2" height="2" fill="#9a9a9a"/><rect x="8" y="4" width="2" height="2" fill="#9a9a9a"/><rect x="0" y="8" width="2" height="2" fill="#9a9a9a"/><rect x="4" y="8" width="2" height="2" fill="#9a9a9a"/><rect x="8" y="8" width="2" height="2" fill="#9a9a9a"/></svg>
<div style="left:0px;top:0px;width:1266px;height:1px;background:#555;"></div>
<div style="left:0px;top:0px;width:1px;height:713px;background:#7a7a7a;"></div>
<div style="left:1265px;top:0px;width:1px;height:713px;background:#5a5a5a;"></div>
<div style="left:0px;top:711px;width:1266px;height:2px;background:#2a2a2a;"></div>
<span style="left:5.70px;top:696px;font-size:11.5px;line-height:12px;color:#1a1a1a;letter-spacing:-0.028px;">Device name:</span>
<span style="left:83.40px;top:696px;font-size:11.5px;line-height:12px;color:#1a1a1a;letter-spacing:-0.420px;">Dev2</span>
<span style="left:143.50px;top:696px;font-size:11.5px;line-height:12px;color:#1a1a1a;letter-spacing:-0.043px;">Com. Status:</span>
<span style="left:269.50px;top:696px;font-size:11.5px;line-height:12px;color:#1a1a1a;letter-spacing:0.226px;">Motor state:</span>
<span style="left:340.80px;top:696px;font-size:11.5px;line-height:12px;color:#1a1a1a;letter-spacing:0.380px;">Off</span>
<span style="left:394.60px;top:696px;font-size:11.5px;line-height:12px;color:#1a1a1a;letter-spacing:0.041px;">Last com error:</span>
<span style="left:480.60px;top:696px;font-size:11.5px;line-height:12px;color:#1a1a1a;letter-spacing:0.402px;">No error</span>
<span style="left:561.20px;top:696px;font-size:11.5px;line-height:12px;color:#1a1a1a;letter-spacing:-0.202px;">Status</span>
<span style="left:833.00px;top:696px;font-size:11.5px;line-height:12px;color:#1a1a1a;letter-spacing:0.234px;">Com. time:</span>
<span style="left:898.00px;top:696px;font-size:11.5px;line-height:12px;color:#1a1a1a;letter-spacing:-1.097px;">48</span>
<span style="left:217.30px;top:696px;font-size:11.5px;line-height:12px;color:#0a3d18;letter-spacing:0.797px;">Ok</span>
</div></body></html>
